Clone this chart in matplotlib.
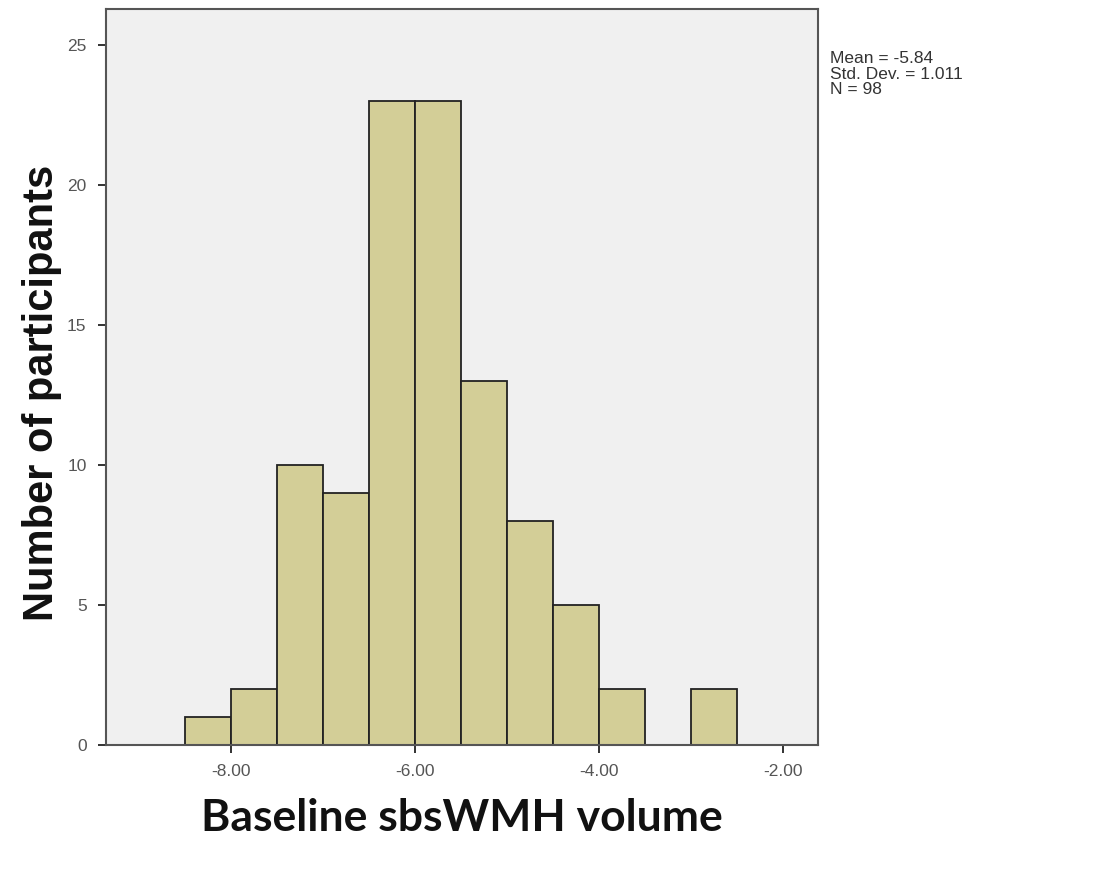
import matplotlib
matplotlib.use('Agg')
import matplotlib.pyplot as plt
import numpy as np

# histogram bins (left edges) and counts
bin_left = [-8.5, -8.0, -7.5, -7.0, -6.5, -6.0, -5.5, -5.0, -4.5, -4.0, -3.5, -3.0]
counts = [1, 2, 10, 9, 23, 23, 13, 8, 5, 2, 0, 2]
bin_width = 0.5
x_ticks = [-8.0, -6.0, -4.0, -2.0]
y_ticks = [0, 5, 10, 15, 20, 25]
stats = ['Mean = -5.84', 'Std. Dev. = 1.011', 'N = 98']

fig = plt.figure(figsize=(10.93, 8.77), dpi=100)
ax = fig.add_axes([0.097, 0.1505, 0.651, 0.8392])
ax.set_facecolor('#f0f0f0')

ax.bar(bin_left, counts, width=bin_width, align='edge',
       color='#d3ce97', edgecolor='#222222', linewidth=1.3)

ax.set_xlim(-9.36, -1.62)
ax.set_ylim(0, 26.3)
ax.set_xticks(x_ticks)
ax.set_xticklabels(['%.2f' % v for v in x_ticks])
ax.set_yticks(y_ticks)
ax.tick_params(direction='out', length=6, width=1.3, color='#222222',
               labelsize=12.5, labelcolor='#555555', pad=8)
for lab in ax.get_xticklabels() + ax.get_yticklabels():
    lab.set_family('Liberation Sans')
for s in ax.spines.values():
    s.set_color('#555555')
    s.set_linewidth(1.5)

ax.set_xlabel('Baseline sbsWMH volume', fontsize=32, fontweight='bold',
              family='Lato', labelpad=13, color='#111111')
fig.text(0.038, 0.552, 'Number of participants', rotation=90, fontsize=30,
         fontweight='bold', family='Liberation Sans', color='#111111',
         ha='center', va='center')

fig.text(0.759, 0.942, '\n'.join(stats), fontsize=12.5, color='#333333',
         va='top', ha='left', linespacing=1.06, family='Liberation Sans')

fig.savefig('out.png', dpi=100)
